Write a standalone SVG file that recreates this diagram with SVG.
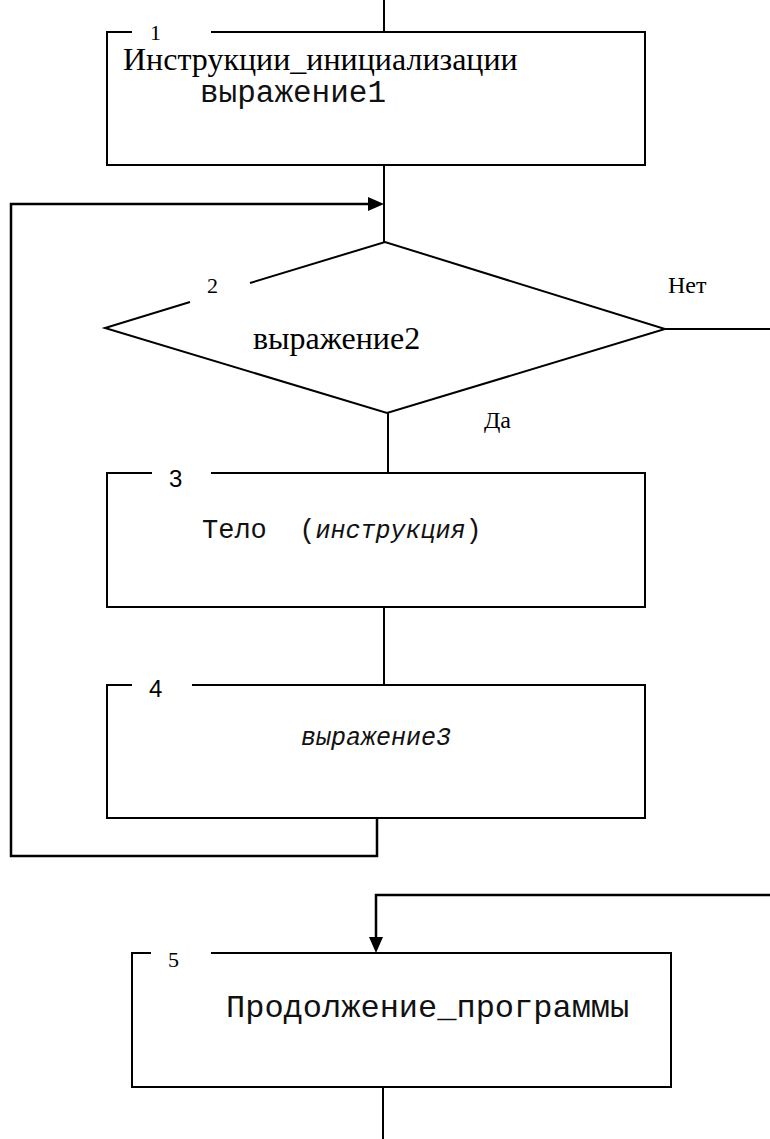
<svg xmlns="http://www.w3.org/2000/svg" width="770" height="1139" viewBox="0 0 770 1139">
  <style>
    .shape { fill: none; stroke: #000; stroke-width: 2; }
    .link { fill: none; stroke: #000; stroke-width: 2; }
    .flow { fill: none; stroke: #000; stroke-width: 2.5; }
    .serif { font-family: "Liberation Serif", "Times New Roman", serif; fill: #000; }
    .sans { font-family: "Liberation Sans", Arial, sans-serif; fill: #000; }
    .mono { font-family: "Liberation Mono", "Courier New", monospace; fill: #111; }
  </style>
  <defs>
    <marker id="arrow" viewBox="0 0 16 14" refX="8" refY="7" markerWidth="16" markerHeight="14" markerUnits="userSpaceOnUse" orient="auto">
      <path d="M0,0 L16,7 L0,14 Z" fill="#000"/>
    </marker>
  </defs>
  <rect width="770" height="1139" fill="#fff"/>

  <!-- connectors -->
  <g id="connectors">
    <path class="link" d="M384,0 V32"/>
    <path class="link" d="M384,165 V242"/>
    <path class="flow" d="M377,818 V856 H11 V204 H376" marker-end="url(#arrow)"/>
    <path class="link" d="M388,413 V473"/>
    <path class="link" d="M384,607 V685"/>
    <path class="link" d="M665,329 H770"/>
    <path class="flow" d="M770,895 H376 V945" marker-end="url(#arrow)"/>
    <path class="link" d="M383,1087 V1139"/>
    <text class="serif" x="668" y="293" font-size="24">Нет</text>
    <text class="serif" x="484" y="428" font-size="24">Да</text>
  </g>

  <!-- 1: initialisation -->
  <g id="node1">
    <path class="shape" d="M211,32 H645 V165 H107 V32 H132"/>
    <text class="serif" x="150" y="40" font-size="22">1</text>
    <text class="serif" x="123" y="70" font-size="32">Инструкции_инициализации</text>
    <text class="mono" x="200" y="102" font-size="31">выражение1</text>
  </g>

  <!-- 2: loop condition -->
  <g id="node2">
    <path class="shape" d="M250,283 L385,242 L665,329 L387,413 L105,328 L190,302"/>
    <text class="serif" x="207" y="293" font-size="22">2</text>
    <text class="serif" x="253" y="349" font-size="32">выражение2</text>
  </g>

  <!-- 3: loop body -->
  <g id="node3">
    <path class="shape" d="M211,473 H645 V607 H107 V473 H152"/>
    <text class="sans" x="169" y="487" font-size="24">3</text>
    <text class="mono" x="202" y="538" font-size="27" xml:space="preserve">Тело  (<tspan font-style="italic" font-size="25">инструкция</tspan>)</text>
  </g>

  <!-- 4: step expression -->
  <g id="node4">
    <path class="shape" d="M192,685 H645 V818 H107 V685 H132"/>
    <text class="sans" x="149" y="697" font-size="24">4</text>
    <text class="mono" x="301" y="745" font-size="25" font-style="italic">выражение3</text>
  </g>

  <!-- 5: rest of the program -->
  <g id="node5">
    <path class="shape" d="M211,953 H671 V1087 H132 V953 H151"/>
    <text class="serif" x="168" y="967" font-size="22">5</text>
    <text class="mono" x="226" y="1017" font-size="32">Продолжение_программы</text>
  </g>
</svg>
